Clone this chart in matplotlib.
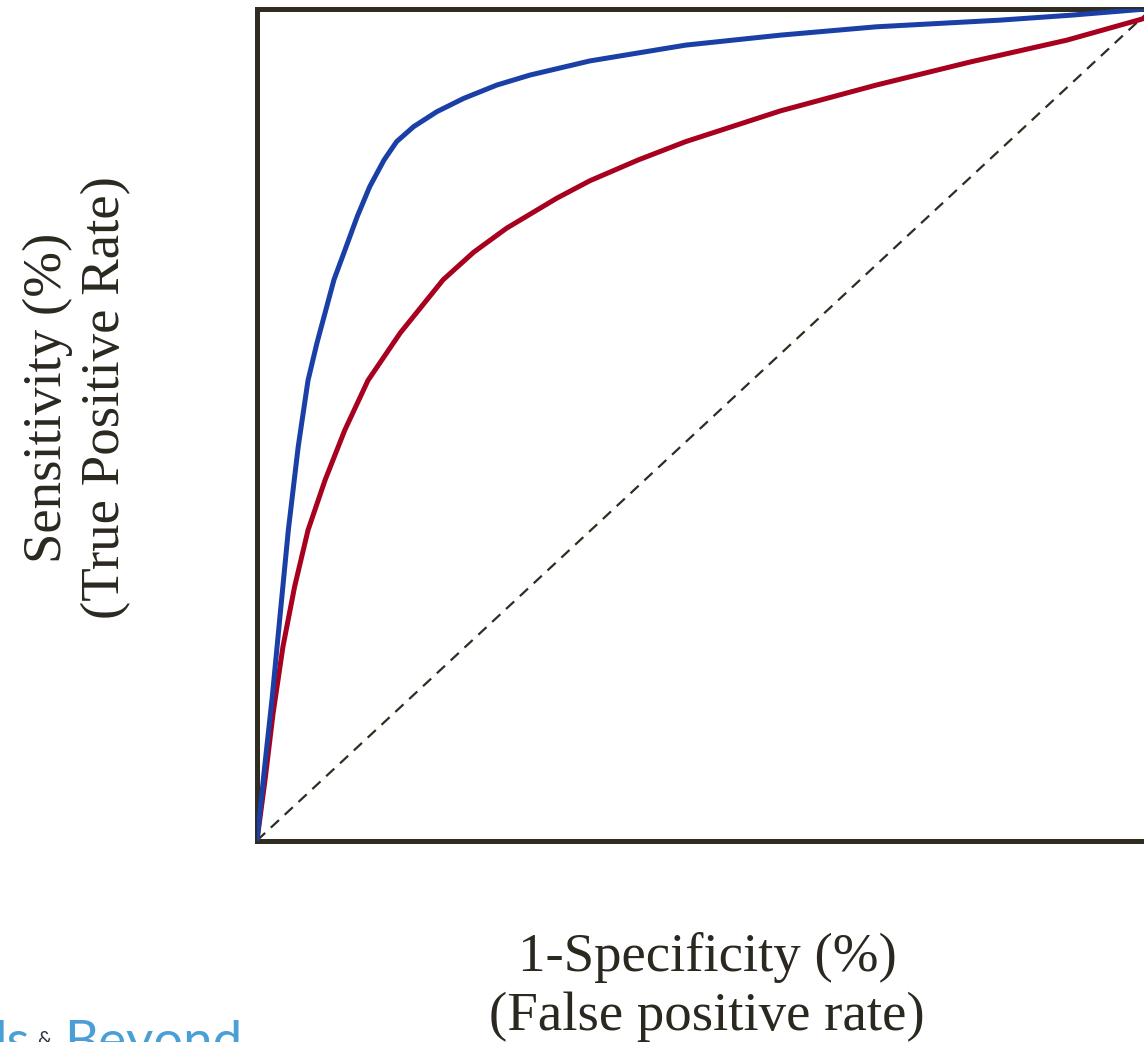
import matplotlib
matplotlib.use("Agg")
import matplotlib.pyplot as plt

# ROC curve readings (false positive rate, true positive rate)
blue_fpr = [0.0, 0.009, 0.017, 0.026, 0.035, 0.046, 0.057, 0.067, 0.076, 0.086,
            0.097, 0.112, 0.126, 0.142, 0.156, 0.175, 0.201, 0.231, 0.268,
            0.305, 0.372, 0.479, 0.585, 0.692, 0.830, 0.910, 1.0]
blue_tpr = [0.0, 0.093, 0.172, 0.273, 0.373, 0.473, 0.553, 0.598, 0.634, 0.674,
            0.706, 0.750, 0.786, 0.818, 0.840, 0.858, 0.876, 0.892, 0.908,
            0.920, 0.937, 0.956, 0.968, 0.978, 0.986, 0.992, 1.0]

red_fpr = [0.0, 0.009, 0.018, 0.029, 0.042, 0.057, 0.076, 0.098, 0.124, 0.160,
           0.208, 0.242, 0.279, 0.335, 0.372, 0.426, 0.479, 0.585, 0.692,
           0.798, 0.905, 0.991, 1.0]
red_tpr = [0.0, 0.073, 0.153, 0.233, 0.305, 0.373, 0.433, 0.493, 0.553, 0.610,
           0.674, 0.707, 0.736, 0.772, 0.793, 0.818, 0.840, 0.877, 0.908,
           0.936, 0.962, 0.988, 1.0]

chance = [0.0, 1.0]

xlabel = "1-Specificity (%)\n(False positive rate)"
ylabel = "Sensitivity (%)\n(True Positive Rate)"

W, H = 1144, 1042
fig = plt.figure(figsize=(W / 100, H / 100), dpi=100)
ax = fig.add_axes([257 / W, (H - 840.5) / H, 895 / W, 832 / H])

dark = "#302c22"
ax.plot(chance, chance, color=dark, lw=1.6, dashes=(5, 3.5), zorder=2)
ax.plot(red_fpr, red_tpr, color="#a8001f", lw=3.6, solid_joinstyle="round",
        solid_capstyle="round", zorder=3)
ax.plot(blue_fpr, blue_tpr, color="#1a3fa6", lw=3.6, solid_joinstyle="round",
        solid_capstyle="round", zorder=4)

ax.set_xlim(0, 1)
ax.set_ylim(0, 1)
ax.set_xticks([])
ax.set_yticks([])
for s in ax.spines.values():
    s.set_color(dark)
    s.set_linewidth(3.6)

serif = ["Liberation Serif", "DejaVu Serif"]
fig.text(707 / W, 1 - 987 / H, xlabel, ha="center", va="center",
         fontsize=39.5, family=serif, color="#2b2820", linespacing=1.22)
fig.text(77 / W, 1 - 398 / H, ylabel, ha="center", va="center", rotation=90,
         fontsize=39.5, family=serif, color="#2b2820", linespacing=1.22)

# partially visible logo in the bottom-left corner
logo = ["Lato", "DejaVu Sans"]
fig.text(-6 / W, 1 - 1058 / H, "ls", ha="left", va="baseline", fontsize=38,
         family=logo, color="#4a9fd6")
fig.text(37 / W, 1 - 1045 / H, "&", ha="left", va="baseline", fontsize=14,
         family=logo, color="#2b3440")
fig.text(64 / W, 1 - 1058 / H, "Beyond", ha="left", va="baseline", fontsize=38,
         family=logo, color="#4a9fd6")

fig.savefig("out.png", dpi=100, facecolor="white")
